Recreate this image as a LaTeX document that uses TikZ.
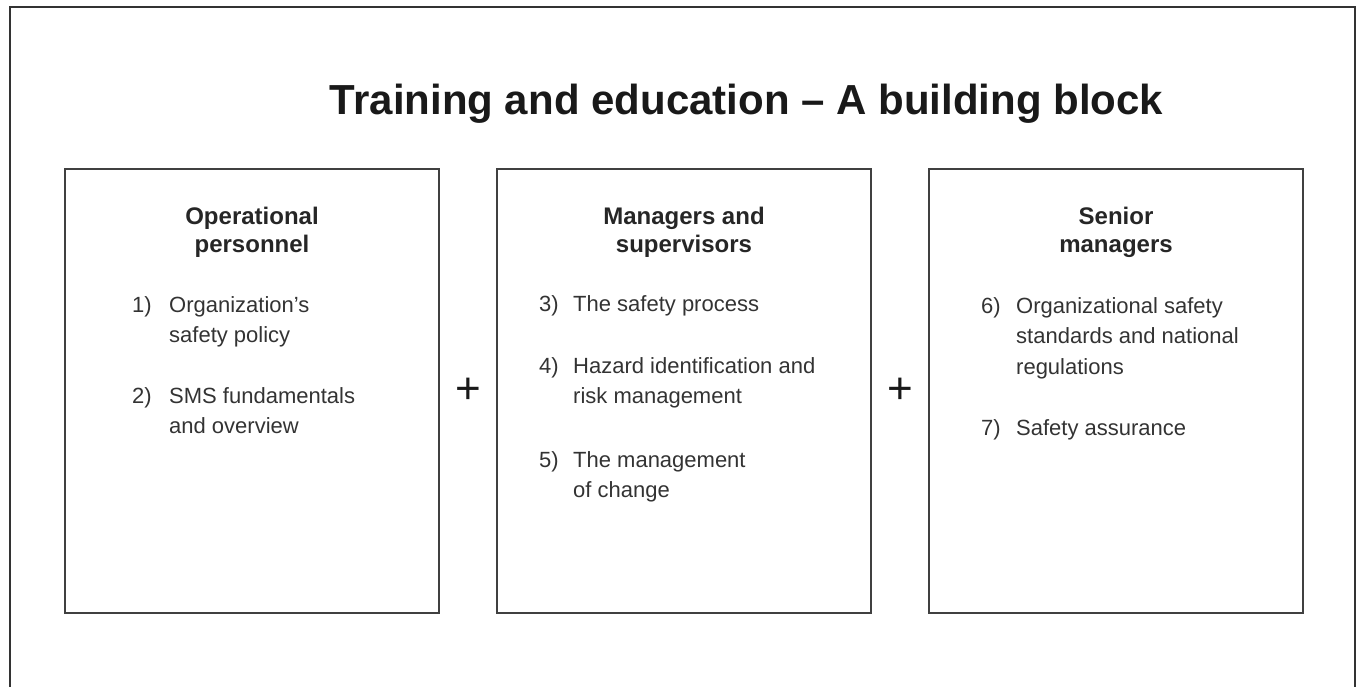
\documentclass[tikz,border=0pt]{standalone}
\usepackage{fontspec}
\setmainfont{Liberation Sans}
\usetikzlibrary{positioning}

\begin{document}
\begin{tikzpicture}[x=1pt,y=-1pt,node distance=56pt,
    block/.style={draw=black!75,line width=2pt,minimum width=374pt,minimum height=444pt,inner sep=0pt},
    head/.style={font=\bfseries\fontsize{24}{28}\selectfont,align=center,anchor=base,inner sep=0pt,text=black!85},
    num/.style={font=\fontsize{22}{30.5}\selectfont,anchor=base west,inner sep=0pt,text=black!80},
    item/.style={num,align=left},
    plus/.style={font=\fontsize{44}{44}\selectfont,inner sep=0pt,text=black!90}]
  \useasboundingbox (0,0) rectangle (1361,687);
  \draw[black!80,line width=2pt] (9.5,7.5) rectangle (1355,720);

  \node[font=\bfseries\fontsize{42}{42}\selectfont,anchor=base,inner sep=0pt,text=black!90] (title) at (746.5,115) {Training and education -- A building block};

  % the three blocks
  \node[block,anchor=north west] (ops) at (64,168) {};
  \node[block] (mgr) [right=of ops] {};
  \node[block] (snr) [right=of mgr] {};

  \path (ops.east) -- (mgr.west) node[midway,plus] (p1) {+};
  \path (mgr.east) -- (snr.west) node[midway,plus] (p2) {+};

  % operational personnel (multi-line nodes sit on their last baseline)
  \node[head] (h1) at (ops.north |- 0,253) {Operational\\personnel};
  \node[item] (i1) at (169,342.5) {Organization's\\safety policy};
  \node[num] (n1) at (132,312.5) {1)};
  \node[item] (i2) at (169,433.5) {SMS fundamentals\\and overview};
  \node[num] (n2) at (132,403) {2)};

  % managers and supervisors
  \node[head] (h2) at (mgr.north |- 0,253) {Managers and\\supervisors};
  \node[num] (n3) at (539,312) {3)};
  \node[item] (i3) at (573,312) {The safety process};
  \node[item] (i4) at (573,403.5) {Hazard identification and\\risk management};
  \node[num] (n4) at (539,373) {4)};
  \node[item] (i5) at (573,497.5) {The management\\of change};
  \node[num] (n5) at (539,467) {5)};

  % senior managers
  \node[head] (h3) at (snr.north |- 0,253) {Senior\\managers};
  \node[item] (i6) at (1016,374) {Organizational safety\\standards and national\\regulations};
  \node[num] (n6) at (981,313) {6)};
  \node[num] (n7) at (981,435) {7)};
  \node[item] (i7) at (1016,435) {Safety assurance};
\end{tikzpicture}
\end{document}
